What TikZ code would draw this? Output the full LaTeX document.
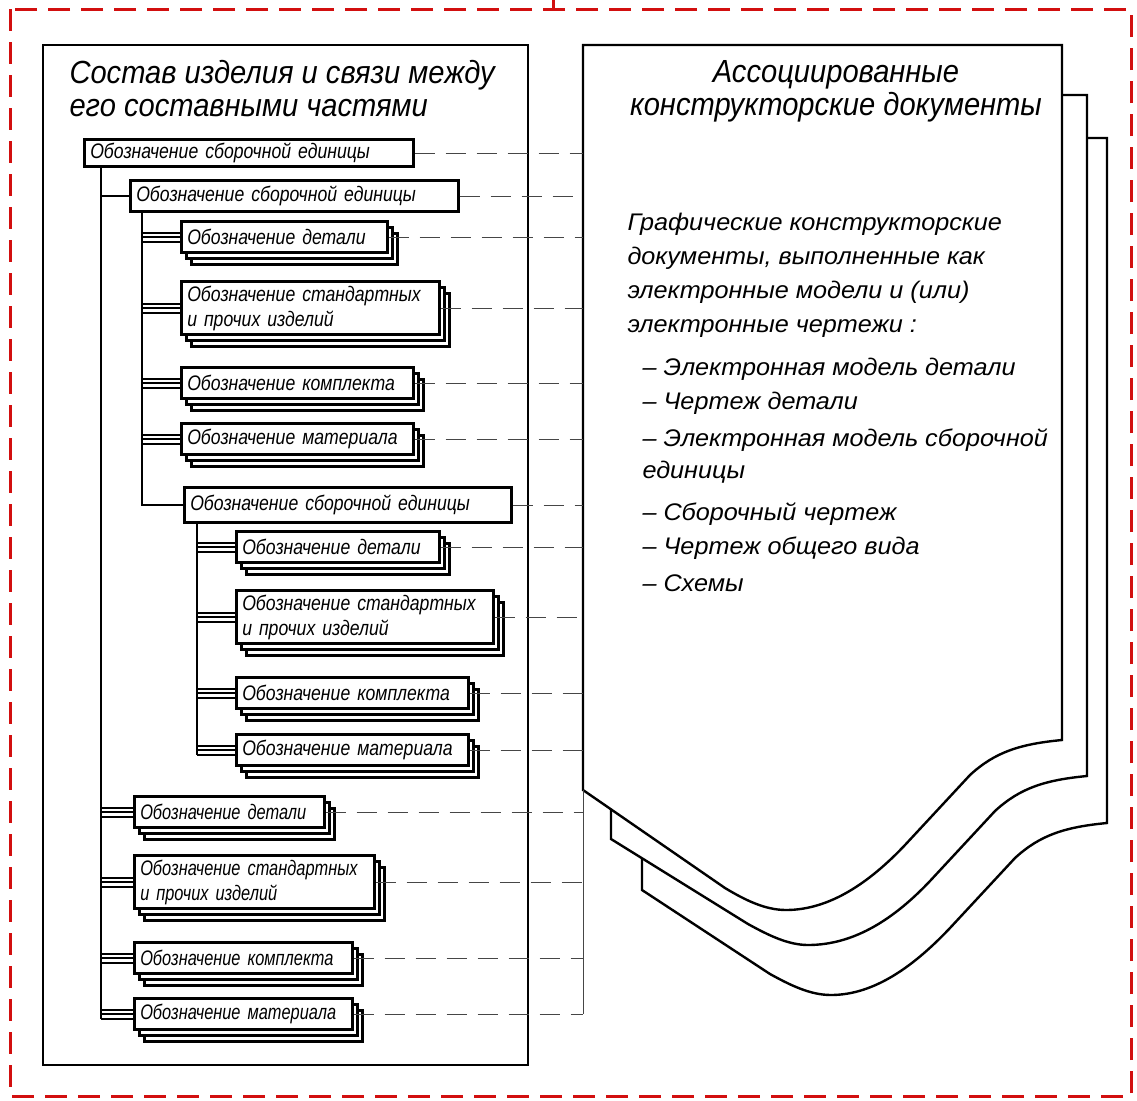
\documentclass[tikz,border=0pt]{standalone}
\usepackage{fontspec}
\setmainfont{Liberation Sans}
\newfontfamily\gost{Liberation Sans}[FakeStretch=0.84]
\newfontfamily\gostn{Liberation Sans}[FakeStretch=0.78]
\newfontfamily\gosthead{Liberation Sans}[FakeStretch=0.91]
\newfontfamily\gostwide{Liberation Sans}[FakeStretch=1.05]
\usetikzlibrary{shadows}
\definecolor{framered}{RGB}{210,15,15}
\definecolor{linkgray}{RGB}{70,70,70}

\begin{document}
\begin{tikzpicture}[x=1pt,y=-1pt,
  part/.style={draw,line width=2.5pt,fill=white,anchor=west,align=left,
    inner xsep=6pt,inner ysep=4pt,minimum height=31pt,text width=#1,
    font=\gost\itshape\fontsize{21}{25}\selectfont},
  stack/.style={part=#1,
    copy shadow={shadow xshift=10pt,shadow yshift=-12pt},
    copy shadow={shadow xshift=5pt,shadow yshift=-6pt}},
  narrow/.style={font=\gostn\itshape\fontsize{21}{25}\selectfont},
  wire/.style={line width=2.5pt},
  bus/.style={line width=2pt,preaction={draw,line width=11pt},
    preaction={draw,white,line width=7pt}},
  link/.style={linkgray,line width=1pt,dash pattern=on 20pt off 11pt},
  doc/.style={draw,line width=2.4pt,fill=white},
  frame/.style={framered,line width=3pt,dash pattern=on 22pt off 11pt},
  heading/.style={font=\gosthead\itshape\fontsize{32}{33}\selectfont}]

  \useasboundingbox (0,0) rectangle (1137,1100);

  % Outer frame and the two panels
  \draw[frame] (10,9) rectangle (1131,1096);
  \coordinate (feed) at (553,0);
  \draw[framered,line width=3pt] (feed) -- (553,9);
  \draw[line width=2.5pt] (43,45) rectangle (528,1065);

  \draw[doc] (642,138) -- (1107,138) -- (1107,823)
    .. controls (1065,827) and (1040,835) .. (1015,858) -- (950,928)
    .. controls (915,965) and (875,995) .. (831,995)
    .. controls (810,995) and (790,985) .. (770,974) -- (642,890) -- cycle;
  \draw[doc] (611,95) -- (1087,95) -- (1087,776)
    .. controls (1045,780) and (1020,788) .. (995,811) -- (930,881)
    .. controls (895,918) and (855,945) .. (808,945)
    .. controls (788,945) and (768,935) .. (748,924) -- (611,839) -- cycle;
  \draw[doc] (583,45) -- (1062,45) -- (1062,740)
    .. controls (1020,744) and (995,752) .. (970,775) -- (905,845)
    .. controls (870,882) and (830,910) .. (786,910)
    .. controls (765,910) and (745,900) .. (725,888) -- (583,790) -- cycle;
  \coordinate (docL) at (583,45);
  \coordinate (docBL) at (583,790);

  % Texts of the panels
  \node[heading,align=left,anchor=north west] (treetitle) at (66,57)
    {Состав изделия и связи между\\его составными частями};
  \node[heading,align=center,anchor=north] (doctitle) at (836,57)
    {Ассоциированные\\конструкторские документы};
  \node[anchor=north west,align=left,
    font=\gostwide\itshape\fontsize{24}{34}\selectfont] (doclist) at (624,210)
    {Графические конструкторские\\документы, выполненные как\\
     электронные модели и (или)\\электронные чертежи :\\[9pt]
     \hspace*{15pt}– Электронная модель детали\\
     \hspace*{15pt}– Чертеж детали\\[3pt]
     \hspace*{15pt}– Электронная модель сборочной\\[-2pt]
     \hspace*{15pt}единицы\\[8pt]
     \hspace*{15pt}– Сборочный чертеж\\
     \hspace*{15pt}– Чертеж общего вида\\[3pt]
     \hspace*{15pt}– Схемы};

  % Position the nodes of the product tree
  \node[part=317pt,inner ysep=2pt,minimum height=27pt] (asm0) at (83,153) {Обозначение сборочной единицы};
  \node[part=316pt] (asm1) at (129,196) {Обозначение сборочной единицы};
  \node[stack=194pt] (a1det) at (180,237) {Обозначение детали};
  \node[stack=246pt] (a1std) at (180,308) {Обозначение стандартных\\и прочих изделий};
  \node[stack=220pt] (a1kit) at (180,383) {Обозначение комплекта};
  \node[stack=220pt] (a1mat) at (180,439) {Обозначение материала};
  \node[part=315pt,minimum height=35pt] (asm2) at (183,505) {Обозначение сборочной единицы};
  \node[stack=191pt] (b2det) at (235,547) {Обозначение детали};
  \node[stack=245pt] (b2std) at (235,617) {Обозначение стандартных\\и прочих изделий};
  \node[stack=220pt] (b2kit) at (235,693) {Обозначение комплекта};
  \node[stack=220pt] (b2mat) at (235,750) {Обозначение материала};
  \node[stack=178pt,narrow] (r0det) at (133,812) {Обозначение детали};
  \node[stack=228pt,narrow] (r0std) at (133,882) {Обозначение стандартных\\и прочих изделий};
  \node[stack=206pt,narrow] (r0kit) at (133,958) {Обозначение комплекта};
  \node[stack=206pt,narrow] (r0mat) at (133,1014) {Обозначение материала};

  % Dashed links to the documents
  \foreach \n in {asm0,asm1,a1det,a1std,a1kit,a1mat,asm2,b2det,b2std,b2kit,b2mat,r0det,r0std,r0kit,r0mat}
    \draw[link] (\n.east) -- (\n.east -| docL);
  \draw[linkgray,line width=1pt] (docBL) -- (docBL |- r0mat.east);

  % Draw the branches of the tree
  \coordinate (t0) at ([xshift=18pt]asm0.south west);
  \coordinate (t1) at ([xshift=13pt]asm1.south west);
  \coordinate (t2) at ([xshift=14pt]asm2.south west);
  \foreach \n in {r0det,r0std,r0kit,r0mat}
    \draw[bus] (t0 |- \n.west) -- (\n.west);
  \foreach \n in {a1det,a1std,a1kit,a1mat}
    \draw[bus] (t1 |- \n.west) -- (\n.west);
  \foreach \n in {b2det,b2std,b2kit,b2mat}
    \draw[bus] (t2 |- \n.west) -- (\n.west);
  \draw[wire] (t0) -- (t0 |- r0mat.west) -- ++(0,5);
  \draw[wire] (t0 |- asm1.west) -- (asm1.west);
  \draw[wire] (t1) -- (t1 |- asm2.west) -- (asm2.west);
  \draw[wire] (t2) -- (t2 |- b2mat.west) -- ++(0,5);

\end{tikzpicture}
\end{document}
